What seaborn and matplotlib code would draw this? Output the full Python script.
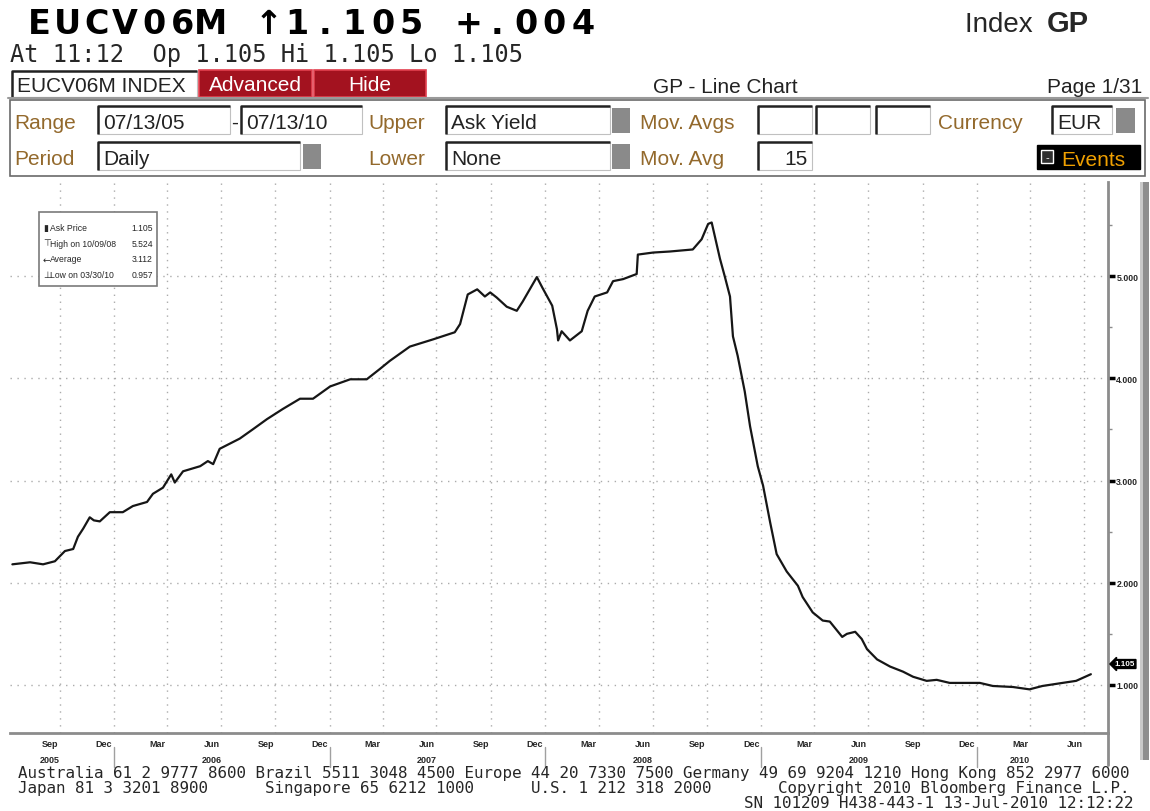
import matplotlib
matplotlib.use("Agg")
import matplotlib.pyplot as plt
import matplotlib.dates as mdates
import matplotlib.ticker as mticker
import matplotlib.transforms as mtransforms
from matplotlib.patches import Rectangle
import pandas
import seaborn

# EUCV06M ask yield
dates = [
    "2005-07-13", "2005-08-12", "2005-09-03", "2005-09-23", "2005-10-10", "2005-10-24",
    "2005-11-01", "2005-11-10", "2005-11-21", "2005-11-28", "2005-12-08", "2005-12-25",
    "2006-01-16", "2006-02-02", "2006-02-26", "2006-03-08", "2006-03-25", "2006-04-08",
    "2006-04-14", "2006-04-28", "2006-05-27", "2006-06-09", "2006-06-18", "2006-06-29",
    "2006-08-02", "2006-08-24", "2006-09-17", "2006-10-14", "2006-11-12", "2006-12-04",
    "2007-01-02", "2007-02-05", "2007-03-05", "2007-03-27", "2007-04-13", "2007-05-17",
    "2007-06-25", "2007-08-01", "2007-08-10", "2007-08-23", "2007-09-08", "2007-09-21",
    "2007-09-30", "2007-10-11", "2007-10-28", "2007-11-14", "2007-11-24", "2007-12-18",
    "2007-12-27", "2008-01-13", "2008-01-21", "2008-01-23", "2008-01-29", "2008-02-12",
    "2008-03-03", "2008-03-13", "2008-03-25", "2008-04-15", "2008-04-25", "2008-05-12",
    "2008-06-04", "2008-06-06", "2008-07-02", "2008-07-30", "2008-09-07", "2008-09-22",
    "2008-10-03", "2008-10-09", "2008-10-23", "2008-10-31", "2008-11-09", "2008-11-14",
    "2008-11-22", "2008-12-04", "2008-12-13", "2008-12-26", "2009-01-04", "2009-01-16",
    "2009-01-27", "2009-02-13", "2009-03-04", "2009-03-12", "2009-03-29", "2009-04-15",
    "2009-04-27", "2009-05-18", "2009-05-26", "2009-06-09", "2009-06-20", "2009-06-29",
    "2009-07-16", "2009-08-07", "2009-08-29", "2009-09-15", "2009-10-08", "2009-10-25",
    "2009-11-16", "2010-01-06", "2010-01-28", "2010-03-03", "2010-03-31", "2010-04-22",
    "2010-05-26", "2010-06-18", "2010-07-13",
]
ask_yield = [
    2.18, 2.20, 2.18, 2.21, 2.31, 2.33,
    2.45, 2.53, 2.64, 2.61, 2.60, 2.69,
    2.69, 2.75, 2.79, 2.87, 2.93, 3.06,
    2.98, 3.09, 3.14, 3.19, 3.16, 3.31,
    3.41, 3.50, 3.60, 3.70, 3.80, 3.80,
    3.92, 3.99, 3.99, 4.09, 4.17, 4.31,
    4.38, 4.45, 4.53, 4.82, 4.87, 4.80,
    4.84, 4.79, 4.70, 4.66, 4.75, 4.99,
    4.89, 4.71, 4.48, 4.37, 4.46, 4.37,
    4.46, 4.66, 4.80, 4.84, 4.95, 4.97,
    5.02, 5.21, 5.23, 5.24, 5.26, 5.36,
    5.51, 5.524, 5.17, 5.00, 4.80, 4.41,
    4.22, 3.87, 3.53, 3.14, 2.95, 2.59,
    2.28, 2.11, 1.97, 1.86, 1.71, 1.63,
    1.62, 1.47, 1.50, 1.52, 1.45, 1.35,
    1.25, 1.18, 1.13, 1.08, 1.04, 1.05,
    1.02, 1.02, 0.99, 0.98, 0.957, 0.99,
    1.02, 1.04, 1.105,
]

y_ticks = [1, 2, 3, 4, 5]
year_labels = ["2005", "2006", "2007", "2008", "2009", "2010"]
year_label_dates = ["2005-09-15", "2006-06-15", "2007-06-15", "2008-06-15", "2009-06-15", "2010-03-15"]
legend_names = ["Ask Price", "High on 10/09/08", "Average", "Low on 03/30/10"]
legend_values = ["1.105", "5.524", "3.112", "0.957"]
legend_marks = ["\u25AE", "\u22A4", "\u2190", "\u22A5"]
last_value = 1.105

footer_1 = "Australia 61 2 9777 8600 Brazil 5511 3048 4500 Europe 44 20 7330 7500 Germany 49 69 9204 1210 Hong Kong 852 2977 6000"
footer_2 = "Japan 81 3 3201 8900      Singapore 65 6212 1000      U.S. 1 212 318 2000       Copyright 2010 Bloomberg Finance L.P."
footer_3 = "SN 101209 H438-443-1 13-Jul-2010 12:12:22"

seaborn.set_style("white")
plt.rcParams["font.family"] = ["Liberation Sans", "DejaVu Sans"]

UI_FONT = ["Liberation Sans", "DejaVu Sans"]
BROWN = "#93692c"
RED = "#a3121f"
GRID = "#ababab"

fig = plt.figure(figsize=(11.5, 8.12), dpi=100)

# ---- chart ----
ax = fig.add_axes([10 / 1150, 1 - 734 / 812, 1098 / 1150, 551 / 812])
df = pandas.DataFrame({"Date": pandas.to_datetime(dates), "Ask Yield": ask_yield})
seaborn.lineplot(data=df, x="Date", y="Ask Yield", ax=ax, color="#161616", linewidth=1.6, zorder=3)
ax.set_xlabel("")
ax.set_ylabel("")
ax.set_xlim(pandas.Timestamp("2005-07-09"), pandas.Timestamp("2010-08-11"))
ax.set_ylim(0.53, 5.92)

for side in ["left", "top"]:
    ax.spines[side].set_visible(False)
for side in ["bottom", "right"]:
    ax.spines[side].set_color("#8c8c8c")
    ax.spines[side].set_linewidth(2)

ax.yaxis.tick_right()
ax.set_yticks(y_ticks)
ax.set_yticklabels([f"{v:.3f}" for v in y_ticks])
ax.yaxis.set_minor_locator(mticker.MultipleLocator(0.5))
ax.tick_params(axis="y", which="major", direction="out", length=5, width=2.5, color="black",
               labelsize=6.3, pad=1)
ax.tick_params(axis="y", which="minor", direction="out", length=3, width=1, color="#8c8c8c")
plt.setp(ax.get_yticklabels(), fontweight="bold")
ax.grid(axis="y", which="major", linestyle=(0, (1, 4)), color=GRID, linewidth=1)

for q in pandas.date_range("2005-10-01", "2010-07-01", freq="QS"):
    ax.axvline(q, linestyle=(0, (1, 4)), color=GRID, linewidth=1, zorder=1)

ax.xaxis.set_major_locator(mdates.MonthLocator(bymonthday=1))
ax.xaxis.set_major_formatter(mticker.NullFormatter())
ax.xaxis.set_minor_locator(mdates.MonthLocator(bymonth=(3, 6, 9, 12), bymonthday=15))
ax.xaxis.set_minor_formatter(mdates.DateFormatter("%b"))
ax.tick_params(axis="x", which="major", direction="inout", length=5, width=1, color="#8c8c8c")
ax.tick_params(axis="x", which="minor", length=0, labelsize=6.5, pad=4)
plt.setp(ax.xaxis.get_minorticklabels(), fontweight="bold")

blend = mtransforms.blended_transform_factory(ax.transData, ax.transAxes)
for d, lab in zip(year_label_dates, year_labels):
    ax.text(pandas.Timestamp(d), -0.048, lab, transform=blend, ha="center", va="center",
            fontsize=6.5, fontweight="bold")
for y0 in pandas.date_range("2006-01-01", "2010-01-01", freq="YS"):
    ax.plot([y0, y0], [-0.025, -0.062], transform=blend, color="#a0a0a0", lw=1, clip_on=False)
ax.plot([1, 1], [0, -0.058], transform=ax.transAxes, color="#8c8c8c", lw=2, clip_on=False)

tag = mtransforms.blended_transform_factory(ax.transAxes, ax.transData)
ax.text(1.006, last_value + 0.1, f"{last_value:.3f}", transform=tag, ha="left", va="center",
        color="white", fontsize=5.8, fontweight="bold",
        bbox=dict(boxstyle="larrow,pad=0.12", fc="black", ec="black"))

# ---- terminal chrome (pixel coordinates) ----
ui = fig.add_axes([0, 0, 1, 1])
ui.set_xlim(0, 1150)
ui.set_ylim(812, 0)
ui.axis("off")


def field(x0, y0, x1, y1, text="", ha="left"):
    ui.add_patch(Rectangle((x0, y0), x1 - x0, y1 - y0, fc="white", ec="#c0c0c0", lw=0.8))
    ui.plot([x0, x0, x1], [y1, y0, y0], color="#222222", lw=1.8, solid_capstyle="butt")
    if text:
        tx = x0 + 5 if ha == "left" else x1 - 4
        ui.text(tx, y1 - 6, text, ha=ha, va="baseline", fontsize=15, family=UI_FONT, color="#222222")


def grey_button(x0, y0, x1, y1):
    ui.add_patch(Rectangle((x0, y0), x1 - x0, y1 - y0, fc="#8a8a8a", ec="#8a8a8a", lw=0))


# title row
title = "EUCV06M \u21911.105 +.004"
for i, ch in enumerate(title):
    ui.text(25 + 28.6 * i + 14.3, 34, ch, ha="center", va="baseline", fontsize=24,
            fontweight="bold", family=["DejaVu Sans"], color="black")
ui.text(1040, 32, "Index ", ha="right", va="baseline", fontsize=20, family=UI_FONT)
ui.text(1047, 32, "GP", ha="left", va="baseline", fontsize=21, fontweight="bold", family=UI_FONT)
ui.text(10, 62, "At 11:12  Op 1.105 Hi 1.105 Lo 1.105", ha="left", va="baseline",
        fontsize=17, family=["DejaVu Sans Mono"])

# command row
field(12, 72, 197, 98, "EUCV06M INDEX")
for x0, x1, lab in [(199, 312, "Advanced"), (314, 426, "Hide")]:
    ui.add_patch(Rectangle((x0, 71), x1 - x0, 27, fc=RED, ec="#e2404f", lw=1.2))
    ui.text((x0 + x1) / 2, 91, lab, ha="center", va="baseline", fontsize=15, color="white", family=UI_FONT)
ui.text(725, 93, "GP - Line Chart", ha="center", va="baseline", fontsize=15, family=UI_FONT, color="#222222")
ui.text(1142, 93, "Page 1/31", ha="right", va="baseline", fontsize=15, family=UI_FONT, color="#222222")

# settings panel
ui.plot([8, 1148], [99, 99], color="#9a9a9a", lw=1.5)
ui.add_patch(Rectangle((10, 101), 1135, 76, fc="white", ec="#6a6a6a", lw=1.2))

row1, row2 = 129, 165
for x, lab, yb in [(14, "Range", row1), (368, "Upper", row1), (640, "Mov. Avgs", row1),
                   (938, "Currency", row1), (14, "Period", row2), (368, "Lower", row2),
                   (640, "Mov. Avg", row2)]:
    ui.text(x, yb, lab, ha="left", va="baseline", fontsize=15, family=UI_FONT, color=BROWN)

field(98, 107, 230, 135, "07/13/05")
ui.text(235, row1, "-", ha="center", va="baseline", fontsize=15, family=UI_FONT)
field(241, 107, 362, 135, "07/13/10")
field(446, 107, 610, 135, "Ask Yield")
grey_button(612, 109, 630, 134)
for x0 in [758, 816, 876]:
    field(x0, 107, x0 + 54, 135)
field(1052, 107, 1112, 135, "EUR")
grey_button(1116, 109, 1135, 134)

field(98, 143, 300, 171, "Daily")
grey_button(303, 145, 321, 170)
field(446, 143, 610, 171, "None")
grey_button(612, 145, 630, 170)
field(758, 143, 812, 171, "15", ha="right")

ui.add_patch(Rectangle((1037, 146), 103, 24, fc="black", ec="black"))
ui.add_patch(Rectangle((1041, 151), 12, 13, fc="#303030", ec="white", lw=1))
ui.text(1047, 158, "-", ha="center", va="center", fontsize=8, color="white")
ui.text(1061, 166, "Events", ha="left", va="baseline", fontsize=15, family=UI_FONT, color="#f0a000")

# legend box inside the chart
ui.add_patch(Rectangle((39, 213), 118, 74, fc="white", ec="#7a7a7a", lw=1.2))
for i, (mk, name, val) in enumerate(zip(legend_marks, legend_names, legend_values)):
    yb = 231 + 15.7 * i
    ui.text(43, yb, mk, ha="left", va="baseline", fontsize=6.5, family=["DejaVu Sans"])
    ui.text(50, yb, name, ha="left", va="baseline", fontsize=6.2)
    ui.text(153, yb, val, ha="right", va="baseline", fontsize=6.2)

# scroll bar on the right
ui.add_patch(Rectangle((1140, 183), 9, 578, fc="#8e8e8e", ec="none"))
ui.add_patch(Rectangle((1140, 183), 2.5, 578, fc="#c9c9c9", ec="none"))

# footer
for yb, txt in [(778, footer_1), (793, footer_2)]:
    ui.text(18, yb, txt, ha="left", va="baseline", fontsize=11.4, family=["DejaVu Sans Mono"])
ui.text(1133, 808, footer_3, ha="right", va="baseline", fontsize=11.4, family=["DejaVu Sans Mono"])

fig.savefig("out.png", dpi=100, facecolor="white")
